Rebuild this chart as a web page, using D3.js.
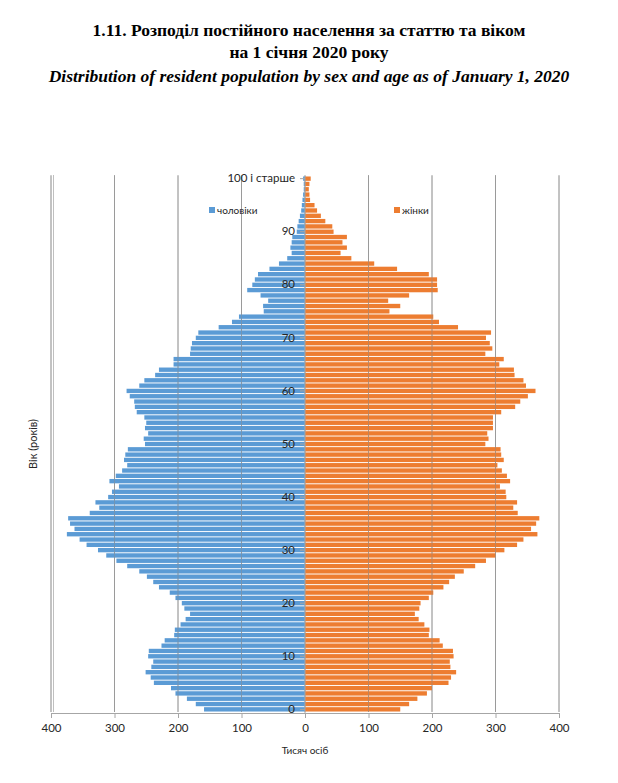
<!DOCTYPE html>
<html>
<head>
<meta charset="utf-8">
<script src="https://cdn.jsdelivr.net/npm/d3@7"></script>
<style>
  body { margin: 0; background: #fff; }
  .title { font-family: "Liberation Serif", "Times New Roman", serif; font-weight: bold; fill: #000; }
  .axis text { font-family: Lato, "Open Sans", sans-serif; fill: #262626; }
</style>
</head>
<body>
<div class="pyramid"></div>
<script>
(function () {
  // age groups 0..100 (100 = "100 і старше")
  var ages = d3.range(0, 101);
  var ageLabels = ['0', '10', '20', '30', '40', '50', '60', '70', '80', '90', '100 і старше'];

  // thousand persons, index = age
  var male = [
    159, 172, 186, 204, 211, 238, 243, 251, 242, 239,
    247, 246, 226, 221, 206, 205, 196, 188, 181, 190,
    194, 204, 213, 230, 239, 249, 261, 280, 297, 313,
    326, 344, 355, 375, 363, 370, 373, 339, 324, 330,
    310, 304, 293, 308, 298, 288, 280, 285, 283, 279,
    252, 254, 247, 252, 250, 253, 265, 268, 269, 276,
    281, 261, 253, 236, 230, 207, 207, 181, 180, 178,
    172, 168, 136, 115, 104, 65, 66, 58, 70, 91,
    83, 79, 74, 56, 41, 28, 21, 23, 21, 20,
    13, 12, 10, 8, 6, 5, 4, 3, 2, 2,
    3
  ];
  var female = [
    150, 164, 177, 192, 200, 226, 230, 238, 229, 228,
    234, 233, 217, 212, 195, 196, 188, 179, 173, 180,
    182, 195, 202, 218, 227, 236, 250, 268, 285, 300,
    314, 334, 344, 366, 356, 364, 369, 335, 328, 334,
    317, 316, 307, 323, 318, 310, 303, 313, 309, 308,
    284, 289, 287, 296, 296, 296, 309, 331, 339, 351,
    363, 348, 344, 330, 329, 306, 313, 284, 295, 291,
    285, 293, 241, 211, 202, 133, 150, 131, 164, 209,
    208, 208, 195, 145, 109, 73, 56, 66, 59, 66,
    45, 43, 32, 25, 19, 15, 8, 7, 6, 7,
    9
  ];
  var xTicks = [-400, -300, -200, -100, 0, 100, 200, 300, 400];
  var seriesNames = ['чоловіки', 'жінки'];
  var colors = ['#5b9bd5', '#ed7d31'];

  var svg = d3.select('.pyramid').append('svg')
    .attr('width', 618)
    .attr('height', 783);

  // titles
  svg.append('text')
    .attr('class', 'title')
    .attr('x', 309).attr('y', 36)
    .attr('text-anchor', 'middle')
    .attr('font-size', '17.5px')
    .text('1.11. Розподіл постійного населення за статтю та віком');
  svg.append('text')
    .attr('class', 'title')
    .attr('x', 309).attr('y', 58)
    .attr('text-anchor', 'middle')
    .attr('font-size', '17.5px')
    .text('на 1 січня 2020 року');
  svg.append('text')
    .attr('class', 'title')
    .attr('x', 309).attr('y', 82)
    .attr('text-anchor', 'middle')
    .attr('font-size', '17.5px')
    .attr('font-style', 'italic')
    .text('Distribution of resident population by sex and age as of January 1, 2020');

  var left = 51, right = 559, top = 176, bottom = 712;

  var x = d3.scaleLinear()
    .domain([-400, 400])
    .range([left, right]);
  var y = d3.scaleBand()
    .domain(ages.slice().reverse())
    .range([top, bottom])
    .paddingInner(0.18)
    .paddingOuter(0.09);

  // gridlines
  var grid = svg.append('g').attr('class', 'grid');
  grid.selectAll('line')
    .data(xTicks)
    .enter().append('line')
    .attr('x1', function (d) { return x(d); })
    .attr('x2', function (d) { return x(d); })
    .attr('y1', top - 1)
    .attr('y2', bottom)
    .attr('stroke', '#a6a6a6')
    .attr('stroke-width', 1);
  grid.append('line')
    .attr('x1', left + 2.5).attr('x2', left + 2.5)
    .attr('y1', top - 1).attr('y2', bottom)
    .attr('stroke', '#bfbfbf')
    .attr('stroke-width', 1);

  // bars
  var bars = svg.append('g').attr('class', 'bars');
  bars.selectAll('.male')
    .data(ages)
    .enter().append('rect')
    .attr('class', 'male')
    .attr('x', function (d) { return x(-male[d]); })
    .attr('y', function (d) { return y(d); })
    .attr('width', function (d) { return x(0) - x(-male[d]); })
    .attr('height', y.bandwidth())
    .attr('fill', colors[0]);
  bars.selectAll('.female')
    .data(ages)
    .enter().append('rect')
    .attr('class', 'female')
    .attr('x', x(0))
    .attr('y', function (d) { return y(d); })
    .attr('width', function (d) { return x(female[d]) - x(0); })
    .attr('height', y.bandwidth())
    .attr('fill', colors[1]);

  // gridlines show faintly through the bars
  svg.append('g').selectAll('line')
    .data(xTicks.filter(function (d) { return d !== 0; }))
    .enter().append('line')
    .attr('x1', function (d) { return x(d); })
    .attr('x2', function (d) { return x(d); })
    .attr('y1', top)
    .attr('y2', bottom)
    .attr('stroke', '#8c8c8c')
    .attr('stroke-opacity', 0.45);

  // x axis
  var axisBottom = d3.axisBottom(x)
    .tickValues(xTicks)
    .tickSize(5)
    .tickPadding(6)
    .tickFormat(function (d) { return Math.abs(d); });
  var gx = svg.append('g')
    .attr('class', 'axis axis--x')
    .attr('transform', 'translate(0,' + (bottom + 1) + ')')
    .call(axisBottom);
  gx.selectAll('text').attr('font-size', '11.5px');
  gx.selectAll('path, line').attr('stroke', '#a6a6a6');

  // y axis at zero
  var labelAt = {};
  ageLabels.forEach(function (l, i) { labelAt[i * 10] = l; });
  var axisLeft = d3.axisLeft(y)
    .tickValues(d3.range(0, 101, 10))
    .tickSize(5)
    .tickPadding(5)
    .tickFormat(function (d) { return labelAt[d]; });
  var gy = svg.append('g')
    .attr('class', 'axis axis--y')
    .attr('transform', 'translate(' + x(0) + ',0)')
    .call(axisLeft);
  gy.select('.domain').remove();
  gy.selectAll('line').attr('stroke', '#a6a6a6');
  gy.selectAll('text').attr('font-size', '11.5px');
  svg.append('line')
    .attr('x1', x(0)).attr('x2', x(0))
    .attr('y1', top).attr('y2', bottom + 1)
    .attr('stroke', '#a6a6a6');

  // legend
  var legendX = [209, 394];
  var legend = svg.append('g').attr('class', 'legend');
  seriesNames.forEach(function (name, i) {
    legend.append('rect')
      .attr('x', legendX[i]).attr('y', 207)
      .attr('width', 6).attr('height', 6)
      .attr('fill', colors[i]);
    legend.append('text')
      .attr('x', legendX[i] + 8).attr('y', 213.5)
      .attr('font-family', 'Lato, sans-serif')
      .attr('font-size', '10px')
      .attr('fill', '#262626')
      .text(name);
  });

  // axis titles
  svg.append('text')
    .attr('x', x(0)).attr('y', 754)
    .attr('text-anchor', 'middle')
    .attr('font-family', 'Lato, sans-serif')
    .attr('font-size', '10px')
    .attr('fill', '#262626')
    .text('Тисяч осіб');
  svg.append('text')
    .attr('transform', 'translate(37,' + 444 + ') rotate(-90)')
    .attr('text-anchor', 'middle')
    .attr('font-family', 'Lato, sans-serif')
    .attr('font-size', '11px')
    .attr('fill', '#262626')
    .text('Вік (років)');
})();
</script>
</body>
</html>
